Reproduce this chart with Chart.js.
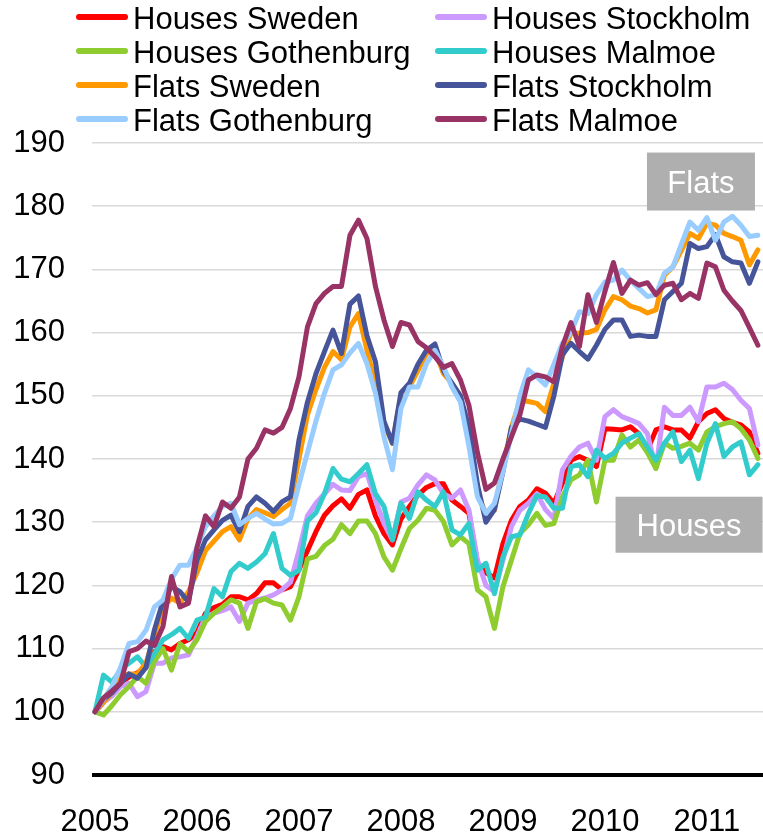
<!DOCTYPE html>
<html>
<head>
<meta charset="utf-8">
<title>Swedish house and flat prices, 2005 = 100</title>
<script src="https://cdn.jsdelivr.net/npm/chart.js@4.4.0/dist/chart.umd.min.js"></script>
<style>
  html, body { margin: 0; padding: 0; background: #ffffff; }
  #wrap { width: 763px; height: 836px; }
</style>
</head>
<body>
<div id="wrap"><canvas id="priceChart" width="763" height="836"></canvas></div>
<script>
// Monthly index, January 2005 = 100 (one value per month, Jan 2005 .. Jul 2011)
const yearLabels = ['2005', '2006', '2007', '2008', '2009', '2010', '2011'];

const housesSweden = [100, 101.5, 102.9, 104.5, 105.5, 106.2, 107, 109.5, 110.3, 109.8,
    110.8, 111.4, 112.5, 115.6, 116.5, 117, 118.2, 118.2, 117.7, 118.7,
    120.4, 120.4, 119.3, 119.8, 122.5, 125.5, 128.5, 131.1, 132.6, 133.7,
    132.2, 134.4, 135.1, 131, 128.2, 126.4, 130.5, 132.5, 134.3, 135.5,
    136.1, 136.1, 133.5, 132.5, 131.4, 123.5, 122, 121.2, 126.6, 130.3,
    132.5, 133.5, 135.3, 134.6, 133, 136.2, 139.8, 140.4, 139.8, 138.8,
    144.8, 144.7, 144.6, 145.1, 144, 141.4, 144.6, 145.1, 144.6, 144.6,
    143.3, 145.9, 147.2, 147.8, 146.4, 145.8, 145.4, 144.3, 140.9];

const housesStockholm = [100, 101.5, 102.5, 104, 104.5, 102.4, 103.2, 107.7, 107.7, 108.5,
    108.7, 109, 111.9, 115, 115.6, 116, 116.6, 114.3, 117.2, 117.7,
    118, 118.5, 119.3, 120.5, 125.5, 131, 133, 134.5, 136, 135.1,
    135, 137.2, 137.7, 133.5, 129.8, 127.2, 133.2, 133.8, 135.9, 137.5,
    136.7, 134.5, 133.8, 135.1, 131.9, 124, 120, 119, 124, 129.3,
    131.9, 133, 134.5, 132, 130.6, 138.3, 140.4, 141.9, 142.5, 139.8,
    146.7, 147.8, 146.7, 146.2, 145.6, 144, 138.5, 148.2, 146.9, 146.9,
    148.2, 145.9, 151.4, 151.4, 152, 151, 149.3, 148, 142.2];

const housesGothenburg = [100, 99.5, 101, 102.7, 104, 105.6, 104.5, 108, 110, 106.6,
    110.8, 109.5, 111.4, 114.3, 115.6, 116.6, 117.7, 117.2, 113.2, 117.4,
    117.9, 117.2, 116.9, 114.5, 118.2, 124.2, 124.6, 126.3, 127.3, 129.6,
    128.2, 130.2, 130.2, 128.2, 124.5, 122.4, 125.8, 129, 130.3, 132.2,
    131.9, 130.1, 126.4, 127.7, 126.6, 119.3, 118.2, 113.2, 119.8, 124,
    128.2, 129.6, 131.4, 129.5, 129.8, 134, 136.7, 137.5, 139.8, 133.2,
    139.8, 139.8, 143.8, 141.9, 143, 141, 138.5, 142.5, 141.7, 142,
    142.5, 141.4, 144.3, 145.1, 145.6, 145.9, 144.8, 143, 140.1];

const housesMalmoe = [100, 105.8, 104.7, 106.6, 107.7, 108.7, 107.1, 109.2, 111.4, 112.2,
    113.2, 111.6, 114.5, 115, 119.5, 118.2, 122.2, 123.5, 122.7, 123.7,
    125, 128.2, 122.7, 121.6, 122.4, 130.2, 131.5, 134.5, 138.5, 136.8,
    136.4, 137.7, 139.1, 134.5, 132.5, 127.2, 133, 130.6, 134.8, 133.5,
    132.5, 134.8, 128.8, 128, 129.8, 122.4, 123.5, 118.7, 124.5, 127.7,
    128, 131.4, 134.2, 134, 132.2, 132.2, 138.8, 139.1, 137.2, 141.4,
    140.1, 140.9, 142.5, 143.3, 144, 141.9, 139.8, 142.5, 144.3, 139.6,
    141.4, 136.9, 142.5, 145.6, 140.4, 141.9, 142.7, 137.5, 139.1];

const flatsSweden = [100, 101.5, 103, 105.5, 106, 106, 107.7, 112, 116.5, 118,
    117.2, 119, 122, 125.5, 127, 128.5, 129.3, 127.2, 130.6, 132,
    131.5, 130.9, 132, 133, 140, 147, 151, 154.5, 157, 155.7,
    160.9, 163, 157.2, 152, 145.6, 142.5, 150, 151.4, 154, 156.7,
    157.2, 153.5, 152, 150, 143, 134.5, 131.4, 131.9, 138.8, 145,
    149.3, 149.1, 148.8, 147.5, 152, 156.2, 159.9, 159.9, 160, 160.5,
    163.6, 165.7, 165.2, 164.2, 163.8, 163.1, 163.6, 169.1, 170.4, 173,
    175.7, 174.9, 177.3, 177, 175.7, 175.2, 174.6, 170.7, 173.1];

const flatsStockholm = [100, 102, 103, 104.5, 106, 105.3, 107, 113, 117.5, 119.8,
    119, 117.4, 124, 127.2, 128.8, 130.3, 131.1, 128.5, 132.5, 134,
    133, 131.7, 133.2, 134, 143, 149, 153.5, 157, 160.4, 156.7,
    164.5, 165.8, 159.5, 155.4, 146, 142.5, 150.5, 152, 155, 157.2,
    158.2, 154, 152, 150, 145, 136, 130, 132, 138, 145,
    146.3, 146, 145.5, 145, 150, 156.5, 158.3, 157, 155.8, 158,
    160.5, 162, 162, 159.4, 159.6, 159.4, 159.4, 165.2, 166.5, 167.8,
    174.1, 173.3, 173.6, 175.5, 172, 171.2, 171, 167.8, 171.2];

const flatsGothenburg = [100, 102, 104, 107, 110.8, 111.1, 112.9, 116.6, 117.7, 121,
    123.2, 123.2, 126, 129.3, 131, 132.5, 133, 129.6, 130.6, 131.4,
    130.5, 129.7, 129.8, 130.6, 136, 141, 146, 150.4, 154.1, 154.9,
    156.8, 158.3, 155.1, 150.4, 143.5, 138.3, 148, 151.4, 151.4, 155.1,
    157.2, 154.6, 151.4, 149, 142, 134, 131.4, 133, 138, 144,
    150, 154.1, 153, 151.7, 155, 158.3, 160, 163.3, 163, 166,
    168, 168.3, 169.9, 168.3, 167, 165.7, 166, 169.4, 170.4, 174,
    177.5, 176.2, 178.2, 174.6, 177.5, 178.4, 177, 175.2, 175.4];

const flatsMalmoe = [100, 102.2, 103.3, 104.5, 109.5, 110, 111.2, 110.5, 113.5, 121.4,
    116.6, 117.2, 126, 131, 129.3, 133.2, 132.2, 134, 140, 141.7,
    144.6, 144.1, 145, 148, 153, 160.9, 164.6, 166.2, 167.3, 167.3,
    175.4, 177.8, 174.9, 167.3, 162, 157.8, 161.6, 161.2, 158.6, 157.6,
    156.2, 154.5, 155.1, 152.5, 148.5, 141, 135.2, 136.2, 140, 143.5,
    147, 152.5, 153.3, 153, 152.2, 157.8, 161.6, 157.8, 166, 161.6,
    166.5, 171.1, 166.2, 168.3, 167.5, 167.9, 166, 167.5, 167.8, 165.2,
    166.2, 165.4, 171, 170.4, 166.7, 165, 163.5, 160.8, 158];

// Series in legend order (read row by row)
const seriesNames = ['Houses Sweden', 'Houses Stockholm', 'Houses Gothenburg', 'Houses Malmoe',
    'Flats Sweden', 'Flats Stockholm', 'Flats Gothenburg', 'Flats Malmoe'];
const seriesValues = [housesSweden, housesStockholm, housesGothenburg, housesMalmoe,
    flatsSweden, flatsStockholm, flatsGothenburg, flatsMalmoe];
const seriesColors = ['#ff0000', '#cc99ff', '#8fcc2f', '#33cccc',
    '#ff9900', '#46549a', '#99ccff', '#993366'];

const FONT = '"Liberation Sans", Arial, sans-serif';

// Grey boxes with white text, anchored on the value scales
const tags = [
    { text: 'Flats', month: 71.3, value: 183.9, w: 108, h: 58 },
    { text: 'Houses', month: 69.9, value: 129.6, w: 147, h: 56 }
];

// Legend in two aligned columns above the plot
const gridLegend = {
    id: 'gridLegend',
    afterDraw(chart) {
        const ctx = chart.ctx;
        ctx.save();
        ctx.font = '31px ' + FONT;
        ctx.textBaseline = 'alphabetic';
        ctx.textAlign = 'left';
        chart.data.datasets.forEach((ds, i) => {
            const x = (i % 2 === 0) ? 76 : 435;
            const y = 17 + Math.floor(i / 2) * 34;
            ctx.strokeStyle = ds.borderColor;
            ctx.lineWidth = 6;
            ctx.lineCap = 'round';
            ctx.beginPath();
            ctx.moveTo(x + 3, y);
            ctx.lineTo(x + 49, y);
            ctx.stroke();
            ctx.fillStyle = '#000000';
            ctx.fillText(ds.label, x + 57, y + 11.5);
        });
        ctx.restore();
    }
};

const boxTags = {
    id: 'boxTags',
    afterDatasetsDraw(chart) {
        const ctx = chart.ctx;
        const xs = chart.scales.x;
        const ys = chart.scales.y;
        ctx.save();
        ctx.font = '31px ' + FONT;
        ctx.textAlign = 'center';
        ctx.textBaseline = 'alphabetic';
        tags.forEach(t => {
            const cx = xs.getPixelForValue(t.month);
            const cy = ys.getPixelForValue(t.value);
            ctx.fillStyle = '#afafaf';
            ctx.fillRect(cx - t.w / 2, cy - t.h / 2, t.w, t.h);
            ctx.fillStyle = '#ffffff';
            ctx.fillText(t.text, cx, cy + 11);
        });
        ctx.restore();
    }
};

function buildDatasets() {
    return seriesNames.map((name, i) => ({
        label: name,
        data: seriesValues[i].map((v, m) => ({ x: m, y: v })),
        borderColor: seriesColors[i],
        backgroundColor: seriesColors[i],
        borderWidth: 5,
        pointRadius: 0,
        tension: 0,
        fill: false,
        borderJoinStyle: 'round',
        borderCapStyle: 'round',
        order: seriesNames.length - 1 - i // last series drawn on top
    }));
}

function createPriceChart() {
    const ctx = document.getElementById('priceChart');
    new Chart(ctx, {
        type: 'line',
        data: { datasets: buildDatasets() },
        options: {
            responsive: false,
            animation: false,
            layout: { padding: { top: 143, left: 0, right: 0, bottom: 0 } },
            plugins: {
                legend: { display: false },
                tooltip: { enabled: false }
            },
            scales: {
                x: {
                    type: 'linear',
                    min: -0.35,
                    max: 78.6,
                    afterBuildTicks: scale => {
                        scale.ticks = yearLabels.map((_, k) => ({ value: k * 12 }));
                    },
                    afterFit: scale => { scale.height = 61; },
                    grid: { display: false },
                    border: { display: false },
                    ticks: {
                        autoSkip: false,
                        maxRotation: 0,
                        padding: 21,
                        color: '#000000',
                        font: { family: FONT, size: 31 },
                        callback: value => yearLabels[Math.round(value / 12)]
                    }
                },
                y: {
                    min: 90,
                    max: 190,
                    afterFit: scale => { scale.width = 92; },
                    border: { display: false },
                    grid: {
                        drawTicks: false,
                        color: c => (c.tick && c.tick.value === 90) ? '#000000' : '#d9d9d9',
                        lineWidth: c => (c.tick && c.tick.value === 90) ? 4 : 1.5
                    },
                    ticks: {
                        stepSize: 10,
                        padding: 27,
                        color: '#000000',
                        font: { family: FONT, size: 31 }
                    }
                }
            }
        },
        plugins: [gridLegend, boxTags]
    });
}

window.addEventListener('load', createPriceChart);
</script>
</body>
</html>
